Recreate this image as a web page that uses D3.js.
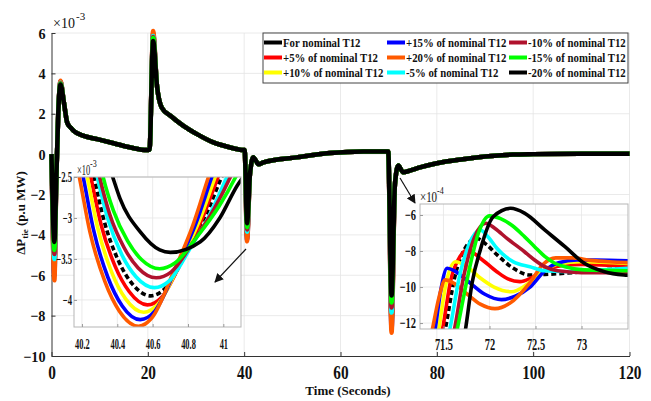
<!DOCTYPE html>
<html><head><meta charset="utf-8">
<script src="https://cdn.jsdelivr.net/npm/d3@7"></script>
<style>body{margin:0;background:#fff;} svg{display:block;} text{font-family:"Liberation Serif","Times New Roman",serif;}</style>
</head><body><svg id="c" width="651" height="401"></svg>
<script>
// ---------------- DATA ----------------
const seriesNames = ["For nominal T12","+5% of nominal T12","+10% of nominal T12","+15% of nominal T12","+20% of nominal T12","-5% of nominal T12","-10% of nominal T12","-15% of nominal T12","-20% of nominal T12"];
const seriesColors = ["#000000","#ff0000","#ffff00","#0000ff","#ff5a00","#00ffff","#b0122d","#00ff00","#000000"];
const insetDashed = [true,false,false,false,false,false,false,false,false];

const xTicks = [0,20,40,60,80,100,120];
const yTicks = [-10,-8,-6,-4,-2,0,2,4,6];

// main curve (shared shape), values x10^-3
const mainTime = [0,0.6,1.0,1.4,1.87,2.57,3.25,3.94,4.6,6.7,9.5,12.9,16.4,19.8,20.35,21.1,21.9,22.9,24.7,27.4,30.2,33.6,37.1,39.5,40.1,40.6,41.2,41.9,43.0,44.0,50.9,57.8,64.7,69.9,70.6,71.3,72.0,73.0,74.4,76.5,80,85.4,90,95.8,100,110,120];
const mainBase = [0,-4.35,-1.2,2.0,3.45,2.56,1.57,1.32,1.15,0.9,0.74,0.54,0.33,0.2,0.22,5.6,3.38,2.3,1.9,1.4,0.99,0.58,0.33,0.21,0.2,-3.42,-1.0,-0.16,-0.5,-0.41,-0.16,0.05,0.13,0.13,-7.0,-1.5,-0.56,-0.9,-0.82,-0.66,-0.45,-0.25,-0.12,-0.02,0.0,0.02,0.02];
// per-series extreme values at the event times
const eventTimes = [0.6, 1.87, 21.1, 40.6, 70.6];
const dipA  = [-5.35,-5.55,-5.8,-6.0,-6.25,-5.2,-4.95,-4.75,-4.35];
const peakA = [3.55,3.57,3.59,3.61,3.63,3.53,3.51,3.49,3.45];
const peakB = [5.85,5.9,5.95,6.0,6.1,5.85,5.8,5.75,5.6];
const dipB  = [-3.95,-4.06,-4.15,-4.24,-4.32,-3.85,-3.73,-3.62,-3.42];
const dipC  = [-8.05,-8.25,-8.45,-8.65,-8.85,-7.85,-7.6,-7.35,-7.0];

// inset 1 (x10^-3), t 40.15..41.1
const inset1XTicks = [40.2,40.4,40.6,40.8,41];
const inset1YTicks = [-4,-3.5,-3,-2.5];
const inset1Data = [
 [[40.24,-2.2],[40.268,-2.5],[40.326,-3.04],[40.406,-3.52],[40.487,-3.81],[40.59,-3.95],[40.67,-3.86],[40.79,-3.43],[40.902,-2.96],[40.99,-2.5],[41.04,-2.25]],
 [[40.22,-2.2],[40.25,-2.5],[40.308,-3.08],[40.388,-3.59],[40.468,-3.90],[40.57,-4.06],[40.65,-3.97],[40.77,-3.50],[40.882,-3.00],[40.97,-2.5],[41.02,-2.22]],
 [[40.20,-2.2],[40.23,-2.5],[40.288,-3.11],[40.368,-3.66],[40.448,-3.99],[40.55,-4.15],[40.631,-4.05],[40.752,-3.56],[40.865,-3.03],[40.954,-2.5],[41.0,-2.23]],
 [[40.177,-2.2],[40.207,-2.5],[40.265,-3.14],[40.346,-3.72],[40.427,-4.07],[40.53,-4.24],[40.611,-4.14],[40.733,-3.61],[40.846,-3.06],[40.935,-2.5],[40.98,-2.23]],
 [[40.155,-2.2],[40.185,-2.5],[40.245,-3.17],[40.329,-3.77],[40.413,-4.14],[40.52,-4.32],[40.599,-4.21],[40.718,-3.66],[40.829,-3.08],[40.916,-2.5],[40.96,-2.22]],
 [[40.257,-2.2],[40.287,-2.5],[40.345,-3.0],[40.426,-3.45],[40.507,-3.72],[40.61,-3.85],[40.692,-3.77],[40.815,-3.36],[40.93,-2.93],[41.02,-2.5],[41.07,-2.25]],
 [[40.27,-2.2],[40.30,-2.5],[40.358,-2.96],[40.438,-3.36],[40.518,-3.61],[40.62,-3.73],[40.704,-3.66],[40.83,-3.29],[40.948,-2.89],[41.04,-2.5],[41.09,-2.26]],
 [[40.29,-2.2],[40.32,-2.5],[40.378,-2.91],[40.458,-3.28],[40.538,-3.51],[40.64,-3.62],[40.726,-3.55],[40.855,-3.22],[40.975,-2.86],[41.07,-2.5],[41.12,-2.28]],
 [[40.33,-2.2],[40.374,-2.5],[40.415,-2.76],[40.53,-3.17],[40.64,-3.39],[40.70,-3.42],[40.87,-3.29],[40.98,-3.0],[41.08,-2.6],[41.13,-2.45]]
];

// inset 2 (x10^-4), t 71.25..73.5
const inset2XTicks = [71.5,72,72.5,73];
const inset2YTicks = [-12,-10,-8,-6];
const inset2Data = [
 [[71.47,-13.5],[71.52,-12.33],[71.62,-9.5],[71.74,-7.8],[71.86,-7.3],[71.97,-7.65],[72.08,-8.2],[72.26,-8.96],[72.44,-9.33],[72.6,-9.3],[72.9,-9.2],[73.2,-9.05],[73.55,-9.0]],
 [[71.44,-13.5],[71.49,-12.33],[71.58,-9.6],[71.68,-8.3],[71.76,-7.94],[71.9,-8.4],[72.08,-9.15],[72.2,-9.55],[72.33,-9.7],[72.45,-9.5],[72.6,-9.05],[72.8,-8.8],[73.0,-8.75],[73.55,-8.85]],
 [[71.41,-13.5],[71.45,-12.33],[71.52,-10.0],[71.63,-8.6],[71.75,-8.85],[71.9,-9.5],[72.05,-10.0],[72.24,-10.26],[72.38,-9.95],[72.5,-9.45],[72.62,-9.0],[72.76,-8.7],[73.0,-8.6],[73.55,-8.7]],
 [[71.37,-13.5],[71.41,-12.33],[71.47,-10.2],[71.54,-8.96],[71.62,-9.1],[71.76,-9.65],[71.95,-10.4],[72.13,-10.7],[72.28,-10.5],[72.44,-10.0],[72.6,-9.1],[72.75,-8.65],[72.95,-8.5],[73.15,-8.5],[73.55,-8.55]],
 [[71.33,-13.5],[71.38,-12.33],[71.45,-10.6],[71.52,-9.6],[71.6,-9.75],[71.76,-10.4],[71.9,-10.95],[72.06,-11.2],[72.22,-10.9],[72.44,-9.75],[72.58,-8.75],[72.72,-8.38],[72.9,-8.38],[73.1,-8.52],[73.3,-8.6],[73.55,-8.65]],
 [[71.52,-13.5],[71.57,-12.33],[71.67,-9.5],[71.78,-7.6],[71.9,-6.83],[71.99,-7.25],[72.08,-7.85],[72.26,-8.6],[72.44,-8.87],[72.6,-9.1],[72.92,-9.15],[73.2,-9.05],[73.55,-8.95]],
 [[71.57,-13.5],[71.62,-12.33],[71.72,-9.4],[71.84,-7.2],[71.96,-6.46],[72.06,-6.75],[72.19,-7.3],[72.38,-8.04],[72.49,-8.5],[72.6,-8.87],[72.74,-9.1],[73.0,-9.2],[73.55,-9.2]],
 [[71.60,-13.5],[71.65,-12.33],[71.76,-9.5],[71.88,-7.0],[72.0,-6.05],[72.12,-6.2],[72.25,-6.6],[72.38,-7.2],[72.49,-7.76],[72.6,-8.3],[72.71,-8.68],[72.82,-8.87],[73.03,-9.05],[73.55,-9.1]],
 [[71.70,-13.5],[71.74,-12.33],[71.81,-9.8],[71.90,-7.94],[72.04,-6.1],[72.23,-5.63],[72.38,-5.9],[72.6,-6.83],[72.82,-7.76],[73.03,-8.68],[73.25,-9.15],[73.46,-9.33],[73.55,-9.36]]
];

// ---------------- DRAW ----------------
const svg = d3.select("#c");
const SERIF = '"Liberation Serif","Times New Roman",serif';

function label(g, x, y, str, size, weight, sx, anchor) {
  return g.append("text").attr("transform", `translate(${x},${y}) scale(${sx},1)`)
    .attr("font-size", size).attr("font-weight", weight).attr("text-anchor", anchor || "middle")
    .attr("fill", "#111").text(str);
}

const x = d3.scaleLinear().domain([0,120]).range([51.5,629.5]);
const y = d3.scaleLinear().domain([-10,6]).range([356,33]);

// grid
const grid = svg.append("g");
grid.selectAll(".gx").data(xTicks.slice(1)).join("line")
  .attr("x1", d=>x(d)).attr("x2", d=>x(d)).attr("y1", y(6)).attr("y2", y(-10))
  .attr("stroke", "#e4e4e4").attr("stroke-width", 0.8);
grid.selectAll(".gy").data(yTicks.slice(1)).join("line")
  .attr("x1", x(0)).attr("x2", x(120)).attr("y1", d=>y(d)).attr("y2", d=>y(d))
  .attr("stroke", "#e4e4e4").attr("stroke-width", 0.8);

// axes
const gx = svg.append("g").attr("transform", `translate(0,${y(-10)})`)
  .call(d3.axisBottom(x).tickValues(xTicks).tickSize(-4).tickSizeOuter(0));
const gy = svg.append("g").attr("transform", `translate(${x(0)},0)`)
  .call(d3.axisLeft(y).tickValues(yTicks).tickSize(-4).tickSizeOuter(0));
[gx, gy].forEach(g => { g.select(".domain").attr("stroke", "#333"); g.selectAll(".tick line").attr("stroke", "#333"); });
gx.selectAll(".tick text").attr("y", 0).attr("dy", 0)
  .attr("transform", "translate(0,23) scale(0.85,1)")
  .attr("font-family", SERIF).attr("font-size", 18).attr("font-weight", "bold").attr("fill", "#111");
gy.selectAll(".tick text").attr("x", 0).attr("dy", 0)
  .attr("transform", "translate(-6,5) scale(0.95,1)")
  .attr("font-family", SERIF).attr("font-size", 15).attr("font-weight", "bold").attr("fill", "#111");

// axis titles
label(svg, 348, 395, "Time (Seconds)", 13, "bold", 1);
const yl = svg.append("text").attr("transform", "translate(25,213) rotate(-90)")
  .attr("text-anchor", "middle").attr("font-size", 13).attr("font-weight", "bold").attr("fill", "#111");
yl.append("tspan").text("ΔP");
yl.append("tspan").attr("font-size", 9).attr("dy", 3).text("tie");
yl.append("tspan").attr("dy", -3).text(" (p.u MW)");

label(svg, 53, 28, "×10", 14, "normal", 1, "start");
label(svg, 76, 20, "-3", 11, "normal", 1, "start");

// main series
const mainSeries = seriesNames.map((n, i) => mainTime.map((t, k) => {
  const e = eventTimes.indexOf(t);
  const v = e < 0 ? mainBase[k] : [dipA, peakA, peakB, dipB, dipC][e][i];
  return [t, v];
}));
const lineMain = d3.line().x(d=>x(d[0])).y(d=>y(d[1])).curve(d3.curveMonotoneX);
svg.append("g").selectAll("path").data(mainSeries).join("path")
  .attr("d", lineMain).attr("fill", "none")
  .attr("stroke", (d,i)=>seriesColors[i]).attr("stroke-width", 4.5)
  .attr("stroke-linejoin", "round");

// legend
const lg = svg.append("g");
lg.append("rect").attr("x", 263).attr("y", 33).attr("width", 365).attr("height", 50)
  .attr("fill", "#fff").attr("stroke", "#444").attr("stroke-width", 1);
const colLineX = [264, 387, 509], colTextX = [283, 406, 528], rowY = [42.5, 57.5, 72.5];
seriesNames.forEach((n, i) => {
  const c = Math.floor(i/3), r = i % 3;
  lg.append("line").attr("x1", colLineX[c]).attr("x2", colLineX[c]+18)
    .attr("y1", rowY[r]).attr("y2", rowY[r]).attr("stroke", seriesColors[i]).attr("stroke-width", 4);
  label(lg, colTextX[c], rowY[r]+4.5, n, 13, "bold", 0.83, "start");
});

// inset builder
function inset(cfg) {
  const g = svg.append("g");
  const ix = d3.scaleLinear().domain(cfg.xd).range(cfg.xr);
  const iy = d3.scaleLinear().domain(cfg.yd).range(cfg.yr);
  const x0 = cfg.xr[0], x1 = cfg.xr[1], y0 = cfg.yr[1], y1 = cfg.yr[0];
  g.append("rect").attr("x", x0).attr("y", y0).attr("width", x1-x0).attr("height", y1-y0).attr("fill", "#fff");
  g.selectAll(".vx").data(cfg.xt).join("line").attr("x1", d=>ix(d)).attr("x2", d=>ix(d))
    .attr("y1", y0).attr("y2", y1).attr("stroke", "#e6e6e6").attr("stroke-width", 0.8);
  g.selectAll(".hy").data(cfg.yt).join("line").attr("y1", d=>iy(d)).attr("y2", d=>iy(d))
    .attr("x1", x0).attr("x2", x1).attr("stroke", "#e6e6e6").attr("stroke-width", 0.8);
  const id = "clip" + cfg.id;
  g.append("clipPath").attr("id", id).append("rect").attr("x", x0).attr("y", y0).attr("width", x1-x0).attr("height", y1-y0);
  const ln = d3.line().x(d=>ix(d[0])).y(d=>iy(d[1])).curve(d3.curveMonotoneX);
  g.append("g").attr("clip-path", `url(#${id})`).selectAll("path").data(cfg.data).join("path")
    .attr("d", ln).attr("fill", "none").attr("stroke", (d,i)=>seriesColors[i])
    .attr("stroke-width", 3.6).attr("stroke-dasharray", (d,i)=>insetDashed[i] ? "5,3" : null);
  g.append("rect").attr("x", x0).attr("y", y0).attr("width", x1-x0).attr("height", y1-y0)
    .attr("fill", "none").attr("stroke", "#b5b5b5").attr("stroke-width", 1);
  const ax = g.append("g").attr("transform", `translate(0,${y1})`)
    .call(d3.axisBottom(ix).tickValues(cfg.xt).tickSize(-3).tickSizeOuter(0).tickFormat(d3.format("")));
  const ay = g.append("g").attr("transform", `translate(${x0},0)`)
    .call(d3.axisLeft(iy).tickValues(cfg.yt).tickSize(-3).tickSizeOuter(0).tickFormat(d3.format("")));
  [ax, ay].forEach(a => { a.select(".domain").remove(); a.selectAll(".tick line").attr("stroke", "#999"); });
  ax.selectAll(".tick text").attr("y", 0).attr("dy", 0)
    .attr("transform", `translate(0,${cfg.xlOff}) scale(${cfg.xls},1)`)
    .attr("font-family", SERIF).attr("font-size", cfg.xlSize).attr("font-weight", "bold").attr("fill", "#111");
  ay.selectAll(".tick text").attr("x", 0).attr("dy", 0)
    .attr("transform", `translate(${cfg.ylOff},4.5) scale(${cfg.yls},1)`)
    .attr("font-family", SERIF).attr("font-size", cfg.ylSize).attr("font-weight", "bold").attr("fill", "#111");
  label(g, cfg.expX, y0-2, "×10", 14, "normal", cfg.expS, "start");
  label(g, cfg.expX + cfg.expW, y0-10, cfg.exp, 10, "normal", 0.8, "start");
}

inset({id:1, xd:[40.155,41.1], xr:[74,241], yd:[-4.33,-2.5], yr:[327,177],
  xt: inset1XTicks, yt: inset1YTicks, data: inset1Data,
  xlOff:22, xls:0.6, xlSize:14, ylOff:-2, yls:0.62, ylSize:14,
  expX:77, expW:13, expS:0.6, exp:"-3"});
inset({id:2, xd:[71.245,73.505], xr:[420,628], yd:[-12.33,-5.39], yr:[329,204],
  xt: inset2XTicks, yt: inset2YTicks, data: inset2Data,
  xlOff:21, xls:0.65, xlSize:16, ylOff:-4, yls:0.7, ylSize:15,
  expX:420, expW:17, expS:0.78, exp:"-4"});

// arrows
const defs = svg.append("defs");
defs.append("marker").attr("id", "ah").attr("viewBox", "0 0 10 10").attr("refX", 9).attr("refY", 5)
  .attr("markerWidth", 9).attr("markerHeight", 9).attr("markerUnits", "userSpaceOnUse").attr("orient", "auto")
  .append("path").attr("d", "M0,0 L10,5 L0,10 Z").attr("fill", "#111");
[[246,249,215,282],[400,178,415,203]].forEach(a => {
  svg.append("line").attr("x1", a[0]).attr("y1", a[1]).attr("x2", a[2]).attr("y2", a[3])
    .attr("stroke", "#111").attr("stroke-width", 1.2).attr("marker-end", "url(#ah)");
});
</script></body></html>
